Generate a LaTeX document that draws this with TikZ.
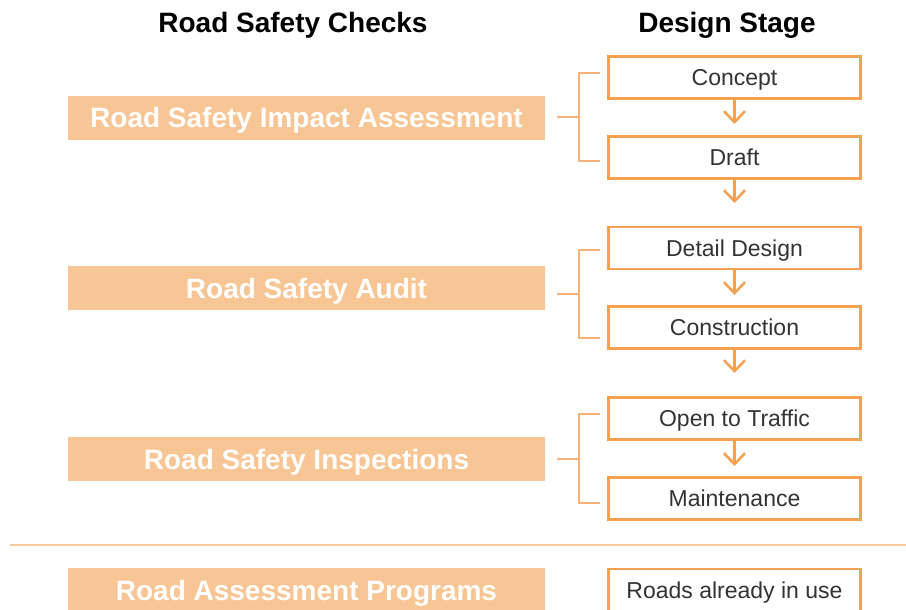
\documentclass[tikz,border=0pt]{standalone}
\usepackage{fontspec}
\setmainfont{Liberation Sans}
\usetikzlibrary{arrows.meta}
\definecolor{barfill}{HTML}{F8C594}
\definecolor{boxline}{HTML}{F6A050}
\definecolor{brkline}{HTML}{F6B27A}
\definecolor{sepline}{HTML}{F9CA9B}
\definecolor{txtgray}{HTML}{333333}
\tikzset{
  hdr/.style={font=\bfseries\fontsize{28}{30}\selectfont, text=black, inner sep=0pt,
    text height=20pt, text depth=0pt},
  bar/.style={fill=barfill, draw=none, minimum width=477pt, minimum height=44pt, inner sep=0pt,
    font=\bfseries\fontsize{28}{30}\selectfont, text=white, text height=20pt, text depth=0pt},
  stagebox/.style={draw=boxline, line width=2.5pt, fill=white, minimum width=252pt, minimum height=42pt,
    inner sep=0pt, font=\fontsize{23}{26}\selectfont, text=txtgray, text height=16.5pt, text depth=0pt},
  arr/.style={draw=boxline, line width=2.5pt, -{Straight Barb[length=11pt,width=21pt]}},
  brk/.style={draw=brkline, line width=1.3pt},
  sep/.style={draw=sepline, line width=1.5pt}
}
\begin{document}
\begin{tikzpicture}[x=1pt,y=-1pt]
\useasboundingbox (0,0) rectangle (906,610);
\clip (0,0) rectangle (906,610);
% headers
\node[hdr] (h1) at (293,22.5) {Road Safety Checks};
\node[hdr] (h2) at (727,22.5) {Design Stage};
% bars
\node[bar] (b1) at (306.5,118) {Road Safety Impact Assessment};
\node[bar] (b2) at (306.5,288) {Road Safety Audit};
\node[bar] (b3) at (306.5,459) {Road Safety Inspections};
\node[bar] (b4) at (306.5,590) {Road Assessment Programs};
% stage boxes
\node[stagebox] (s1) at (734.5,77.5) {Concept};
\node[stagebox] (s2) at (734.5,157.5) {Draft};
\node[stagebox] (s3) at (734.5,248) {Detail Design};
\node[stagebox] (s4) at (734.5,327.5) {Construction};
\node[stagebox] (s5) at (734.5,418.5) {Open to Traffic};
\node[stagebox] (s6) at (734.5,498.5) {Maintenance};
\node[stagebox] (s7) at (734.5,590) {Roads already in use};
% arrows
\coordinate (e2) at (734.5,203);
\coordinate (e4) at (734.5,373);
\draw[arr] (s1.south) -- ([yshift=-1pt]s1.south |- 0,123);
\draw[arr] (s2.south) -- (e2);
\draw[arr] (s3.south) -- ([yshift=-1pt]s3.south |- 0,294);
\draw[arr] (s4.south) -- (e4);
\draw[arr] (s5.south) -- ([yshift=-1pt]s5.south |- 0,465);
% brackets
\draw[brk] (600,73) -- (579,73) -- (579,161) -- (600,161);
\draw[brk] (557,117) -- (579,117);
\draw[brk] (600,250) -- (579,250) -- (579,338) -- (600,338);
\draw[brk] (557,294) -- (579,294);
\draw[brk] (600,414) -- (579,414) -- (579,503) -- (600,503);
\draw[brk] (557,459) -- (579,459);
% separator
\draw[sep] (10,545) -- (906,545);
\end{tikzpicture}
\end{document}
